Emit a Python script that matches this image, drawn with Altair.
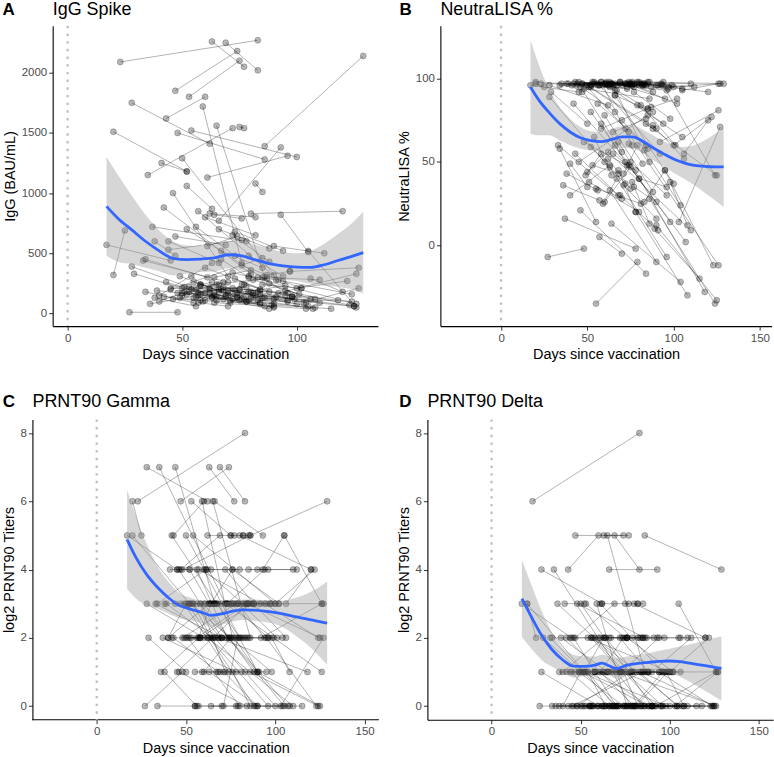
import altair as alt
import pandas as pd

# Sampling days for each participant (first and second visit)
day1 = [23, 17, 20, 20, 28, 27, 28, 29, 33, 35,
        34, 37, 38, 40, 41, 42, 43, 44, 45, 46,
        47, 48, 49, 50, 51, 52, 52, 53, 53, 54,
        54, 55, 56, 56, 57, 58, 58, 59, 60, 60,
        61, 62, 62, 63, 63, 64, 64, 65, 65, 66,
        66, 67, 68, 68, 69, 70, 71, 72, 72, 73,
        74, 75, 75, 76, 76, 77, 78, 79, 80, 80,
        81, 82, 83, 84, 85, 86, 86, 87, 88, 89,
        90, 92, 93, 95, 97, 98, 100, 103, 105, 106,
        36, 39, 40, 43, 44, 45, 46, 47, 48, 49,
        50, 51, 53, 55, 56, 57, 58, 59, 61, 62,
        63, 64, 65, 67, 69, 70, 71, 73, 74, 76,
        77, 79, 81, 83, 85, 57, 60, 52, 54, 66,
        42, 34, 38, 90, 94]
day2 = [83, 45, 52, 25, 62, 48, 60, 50, 70, 72,
        55, 78, 56, 63, 52, 80, 60, 66, 85, 70,
        74, 86, 58, 90, 80, 63, 98, 68, 75, 100,
        64, 79, 84, 66, 92, 72, 105, 76, 88, 75,
        96, 82, 110, 77, 90, 80, 104, 86, 73, 100,
        93, 85, 118, 78, 83, 95, 90, 88, 126, 84,
        107, 77, 96, 86, 102, 98, 108, 91, 120, 96,
        101, 85, 104, 125, 110, 129, 124, 97, 106, 115,
        112, 126, 105, 123, 127, 108, 122, 127, 126, 120,
        57, 65, 50, 68, 76, 62, 84, 69, 78, 74,
        66, 88, 63, 81, 73, 70, 87, 67, 74, 75,
        96, 76, 84, 79, 91, 85, 79, 94, 82, 83,
        90, 94, 99, 95, 102, 64, 82, 72, 69, 88,
        58, 61, 47, 125, 124]

# IgG Spike (BAU/mL)
igg1 = [2090, 570, 1510, 320, 1750, 10, 390, 330, 440, 1150,
        180, 720, 130, 150, 1250, 880, 1620, 600, 200, 1000,
        1850, 1500, 130, 1290, 220, 1060, 700, 180, 1800, 1520,
        310, 260, 140, 200, 850, 160, 240, 1720, 380, 110,
        1130, 830, 210, 2260, 140, 300, 90, 1560, 240, 180,
        770, 520, 220, 190, 2250, 160, 110, 650, 340, 290,
        140, 1550, 200, 120, 400, 240, 100, 310, 830, 130,
        280, 1080, 180, 160, 300, 1390, 130, 320, 250, 70,
        560, 170, 820, 190, 350, 140, 210, 90, 520, 290,
        80, 190, 100, 260, 530, 210, 120, 640, 170, 310,
        150, 180, 220, 130, 720, 90, 230, 100, 560, 170,
        130, 820, 110, 450, 150, 190, 90, 680, 170, 240,
        120, 480, 150, 110, 240, 170, 800, 160, 200, 700,
        140, 450, 600, 120, 270]
igg2 = [2270, 440, 1180, 690, 1410, 10, 170, 210, 260, 1540,
        90, 600, 60, 420, 1180, 330, 1800, 420, 460, 310,
        2180, 1280, 240, 320, 180, 870, 140, 260, 2100, 1300,
        170, 110, 90, 240, 280, 120, 60, 420, 180, 200,
        1310, 800, 90, 2050, 50, 360, 40, 300, 190, 80,
        1380, 380, 110, 100, 2020, 230, 60, 430, 80, 200,
        40, 1540, 170, 60, 210, 140, 50, 280, 850, 110,
        160, 1010, 90, 60, 280, 2140, 100, 350, 120, 40,
        500, 330, 510, 70, 380, 120, 270, 210, 50, 180,
        150, 140, 170, 120, 610, 200, 80, 570, 220, 130,
        200, 40, 260, 170, 480, 60, 290, 200, 640, 110,
        100, 790, 190, 300, 140, 130, 180, 520, 150, 300,
        80, 310, 120, 150, 210, 150, 650, 210, 140, 540,
        110, 300, 480, 60, 160]

# NeutraLISA inhibition (%)
nlisa1 = [97, 96, 98, 97, 96, -7, 89, 92, 60, 97,
          58, 16, 43, 30, 96, 85, 98, 97, 50, 95,
          97, 94, 42, 96, 38, 95, 80, 48, 98, 97,
          65, -35, 85, 97, 96, 73, 98, 96, 78, 26,
          97, 96, 56, 98, 33, 97, 13, 96, 55, 90,
          97, 93, 62, 45, 98, 96, 36, 97, 70, 95,
          48, 97, 50, 38, 96, 92, 20, 98, 97, 40,
          84, 96, 57, 73, 97, 98, 28, 95, 72, 10,
          96, 62, 97, 45, 95, 38, 60, 14, 93, 55,
          36, 97, 49, 55, 96, 98, 21, 97, 62, 96,
          44, 95, 97, 34, 96, 5, 70, 25, 98, 52,
          47, 97, 68, 96, 30, 75, 43, 97, 61, 98,
          35, 84, 97, 26, 82, 96, 97, 59, 98, 90,
          97, 96, 97, 12, 96]
nlisa2 = [96, 92, 96, 95, 84, -2, 50, 73, 28, 97,
          14, -2, 33, 48, 96, 40, 97, 80, 78, 56,
          98, 88, 55, 70, 20, 95, 14, 43, 97, 95,
          42, -10, 60, 93, 55, 50, 65, 60, 32, 47,
          93, 97, 9, 95, -10, 98, -22, 50, 48, 37,
          96, 82, -28, 20, 97, 88, 16, 92, -12, 96,
          2, 97, 30, 13, 85, 76, -30, 96, 92, 35,
          60, 98, 24, 42, 97, 97, -35, 94, 52, -20,
          95, 81, 94, -12, 97, 12, 77, 71, 97, 75,
          27, 96, 35, 30, 97, 96, -17, 98, 45, 68,
          60, 70, 97, 25, 94, -5, 83, 40, 97, 34,
          -7, 96, 76, 97, 9, 58, 60, 98, 49, 97,
          26, 73, 96, 45, 88, 97, 96, 37, 97, 80,
          98, 97, 92, -33, 42]

# log2 PRNT90 titers, Gamma variant
gamma1 = [6, 5, 5, 6, 7, 0, 3, 2, 3, 7,
          0, 2, 1, 2, 4, 5, 5, 7, 1, 4,
          6, 4, 2, 5, 2, 4, 3, 2, 6, 5,
          3, 0, 2, 3, 4, 3, 3, 6, 3, 1,
          4, 5, 2, 7, 1, 4, 0, 6, 3, 2,
          6, 3, 2, 3, 7, 3, 1, 4, 3, 3,
          2, 5, 3, 1, 4, 3, 0, 3, 5, 2,
          3, 5, 2, 3, 4, 5, 1, 3, 3, 0,
          4, 2, 4, 2, 3, 2, 3, 0, 5, 3,
          1, 3, 2, 2, 3, 4, 1, 4, 2, 3,
          2, 3, 3, 1, 4, 0, 2, 1, 3, 2,
          2, 3, 2, 3, 1, 2, 0, 3, 2, 3,
          2, 3, 2, 1, 3, 2, 4, 2, 3, 3,
          2, 3, 3, 1, 3]
gamma2 = [8, 4, 3, 5, 6, 1, 2, 1, 2, 3,
          0, 1, 0, 3, 4, 2, 6, 3, 3, 2,
          7, 5, 2, 1, 0, 3, 1, 2, 5, 3,
          2, 0, 3, 3, 3, 1, 0, 2, 1, 2,
          4, 5, 0, 6, 0, 4, 0, 2, 3, 0,
          5, 3, 1, 2, 6, 3, 0, 3, 1, 3,
          0, 5, 2, 0, 3, 3, 0, 3, 4, 2,
          2, 5, 2, 2, 4, 6, 0, 3, 2, 0,
          4, 3, 5, 0, 3, 1, 4, 2, 3, 4,
          2, 2, 3, 1, 3, 4, 0, 5, 3, 1,
          2, 0, 3, 1, 2, 0, 3, 1, 3, 2,
          0, 4, 2, 3, 1, 2, 2, 4, 2, 3,
          1, 2, 2, 1, 3, 3, 3, 2, 2, 3,
          2, 4, 3, 0, 2]

# log2 PRNT90 titers, Delta variant
delta1 = [6, 3, 3, 3, 4, 0, 1, 2, 2, 4,
          0, 3, 0, 1, 3, 2, 4, 1, 0, 2,
          5, 3, 1, 3, 0, 1, 1, 0, 3, 2,
          1, 0, 0, 2, 2, 1, 2, 3, 1, 0,
          3, 3, 0, 5, 0, 2, 0, 5, 1, 0,
          4, 2, 0, 1, 5, 1, 0, 2, 1, 2,
          0, 3, 1, 0, 2, 1, 0, 2, 3, 0,
          1, 3, 1, 1, 2, 5, 0, 2, 1, 0,
          1, 0, 2, 0, 1, 1, 1, 0, 3, 2,
          0, 2, 0, 0, 2, 1, 0, 2, 0, 1,
          0, 1, 1, 0, 2, 0, 1, 0, 1, 0,
          0, 2, 1, 1, 0, 1, 0, 1, 1, 2,
          0, 1, 0, 0, 1, 1, 2, 0, 1, 1,
          1, 2, 1, 0, 1]
delta2 = [8, 2, 1, 2, 3, 0, 0, 1, 0, 1,
          0, 1, 0, 2, 3, 0, 5, 0, 1, 0,
          5, 2, 1, 0, 0, 2, 0, 0, 2, 1,
          0, 0, 0, 2, 0, 1, 0, 0, 0, 0,
          1, 3, 0, 5, 0, 1, 0, 1, 1, 0,
          4, 2, 0, 0, 4, 1, 0, 1, 0, 2,
          0, 3, 0, 0, 1, 1, 0, 2, 2, 1,
          1, 3, 0, 0, 2, 4, 0, 2, 1, 0,
          2, 1, 2, 0, 1, 0, 2, 1, 1, 2,
          0, 1, 1, 0, 2, 1, 0, 3, 1, 0,
          0, 0, 1, 0, 1, 0, 1, 0, 2, 0,
          0, 2, 1, 1, 0, 0, 0, 2, 0, 2,
          0, 1, 1, 0, 1, 1, 2, 0, 0, 1,
          1, 2, 1, 0, 0]

# LOESS fits with 95% confidence bands
smooth_days = [17, 22, 28, 34, 40, 46, 52, 58, 64, 70,
               76, 82, 88, 94, 100, 106, 112, 118, 124, 129]
igg_fit = [890, 790, 695, 600, 520, 458, 448, 452, 462, 488,
           478, 445, 415, 395, 385, 383, 405, 440, 475, 505]
igg_hi = [1300, 1150, 980, 820, 690, 600, 565, 560, 575, 600,
          600, 570, 540, 510, 500, 520, 580, 660, 750, 845]
igg_lo = [480, 430, 410, 380, 350, 316, 331, 344, 349, 376,
          356, 320, 290, 280, 270, 246, 230, 220, 200, 165]

nlisa_fit = [95, 87, 79.5, 73, 68, 64.5, 62.8, 62.2, 63.5, 65,
             65, 62.5, 58.5, 55, 51.8, 49.5, 48, 47.3, 47, 47]
nlisa_hi = [123, 108, 93, 83, 76, 71, 68.5, 68, 70, 71.5,
            72, 69.5, 66, 62.5, 60, 59, 60, 63, 67, 71]
nlisa_lo = [67, 66, 66, 63, 60, 58, 57, 56.4, 57, 58.5,
            58, 55.5, 51, 47.5, 43.6, 40, 36, 31.6, 27, 23]

gamma_fit = [4.88, 4.35, 3.85, 3.48, 3.18, 2.95, 2.85, 2.76, 2.66, 2.7,
             2.78, 2.82, 2.81, 2.78, 2.74, 2.68, 2.61, 2.55, 2.48, 2.43]
gamma_hi = [6.33, 5.55, 4.75, 4.1, 3.65, 3.32, 3.18, 3.08, 3.0, 3.02,
            3.08, 3.12, 3.12, 3.1, 3.08, 3.1, 3.18, 3.3, 3.47, 3.65]
gamma_lo = [3.43, 3.15, 2.95, 2.86, 2.71, 2.58, 2.52, 2.44, 2.32, 2.38,
            2.48, 2.52, 2.5, 2.46, 2.4, 2.26, 2.04, 1.8, 1.49, 1.21]

delta_days = [17, 22, 28, 34, 40, 46, 52, 58, 62, 66, 70,
              76, 82, 88, 94, 100, 106, 112, 118, 124, 129]
delta_fit = [3.15, 2.65, 2.08, 1.65, 1.35, 1.17, 1.16, 1.2, 1.26, 1.18, 1.1,
             1.2, 1.25, 1.28, 1.31, 1.32, 1.3, 1.25, 1.2, 1.15, 1.1]
delta_hi = [4.28, 3.6, 2.8, 2.15, 1.7, 1.5, 1.45, 1.45, 1.5, 1.45, 1.4,
            1.45, 1.5, 1.55, 1.62, 1.68, 1.75, 1.82, 1.9, 1.98, 2.04]
delta_lo = [2.02, 1.7, 1.36, 1.15, 1.0, 0.84, 0.87, 0.95, 1.02, 0.91, 0.8,
            0.95, 1.0, 1.01, 1.0, 0.96, 0.85, 0.68, 0.5, 0.32, 0.16]

FONT = "Liberation Sans"
PANEL_H = 301


def panel(tag, title, first, second, sx, fit, lo, hi,
          xdom, xticks, ydom, yticks, ytitle, width, tag_x, text_y, shift=0.0):
    """One panel: paired trajectories, points, LOESS band and fit.

    `shift` pushes the y axis `shift` px to the left of the data rectangle,
    so the drawn frame starts left of the panel's grid origin.
    """
    n = len(day1)
    pts = pd.DataFrame({
        "subject": list(range(n)) * 2,
        "day": day1 + day2,
        "value": first + second,
    })
    band = pd.DataFrame({"day": sx, "fit": fit, "lo": lo, "hi": hi})

    px_per_day = width / (xdom[1] - xdom[0])
    view_dom = [xdom[0] + shift / px_per_day, xdom[1]]
    view_w = width - shift

    xs = alt.Scale(domain=view_dom, nice=False, zero=False)
    ys = alt.Scale(domain=ydom, nice=False, zero=False)
    xax = alt.Axis(values=xticks, title="Days since vaccination", format="d",
                   domain=(shift == 0))
    yax = alt.Axis(values=yticks, title=ytitle, format="d", offset=shift)

    def X(field="day:Q"):
        return alt.X(field, scale=xs, axis=xax)

    def Y(field):
        return alt.Y(field, scale=ys, axis=yax)

    layers = []
    if shift:
        # x-axis baseline spanning the full frame, down to the shifted y axis
        base = pd.DataFrame({"x0": [xdom[0]], "x1": [xdom[1]], "y0": [ydom[0]]})
        layers.append(alt.Chart(base).mark_rule(color="black", strokeWidth=1.1).encode(
            x=X("x0:Q"), x2="x1:Q", y=Y("y0:Q")))

    vline = alt.Chart(pd.DataFrame({"day": [0]})).mark_rule(
        color="#BDBDBD", strokeDash=[2.4, 5.3], strokeWidth=2.2
    ).encode(x=X())

    paths = alt.Chart(pts).mark_line(
        color="black", strokeOpacity=0.3, strokeWidth=1
    ).encode(x=X(), y=Y("value:Q"), detail="subject:N")

    dots = alt.Chart(pts).mark_circle(
        size=36, fill="black", fillOpacity=0.28,
        stroke="black", strokeOpacity=0.3, strokeWidth=0.8
    ).encode(x=X(), y=Y("value:Q"))

    ribbon = alt.Chart(band).mark_area(
        color="#999999", opacity=0.4, interpolate="monotone"
    ).encode(x=X(), y=Y("lo:Q"), y2="hi:Q")

    trend = alt.Chart(band).mark_line(
        color="#3366FF", strokeWidth=2.8, interpolate="monotone"
    ).encode(x=X(), y=Y("fit:Q"))

    tag_text = alt.Chart(pd.DataFrame({"t": [tag]})).mark_text(
        align="left", baseline="alphabetic", font=FONT, fontSize=17,
        fontWeight="bold", color="black"
    ).encode(text="t:N", x=alt.value(tag_x - shift), y=alt.value(text_y))

    title_text = alt.Chart(pd.DataFrame({"t": [title]})).mark_text(
        align="left", baseline="alphabetic", font=FONT, fontSize=18,
        color="black"
    ).encode(text="t:N", x=alt.value(-shift), y=alt.value(text_y))

    layers += [vline, paths, dots, ribbon, trend, tag_text, title_text]
    return alt.layer(*layers).properties(width=view_w, height=PANEL_H)


pa = panel("A", "IgG Spike", igg1, igg2, smooth_days, igg_fit, igg_lo, igg_hi,
           [-6.5, 135.4], [0, 50, 100], [-105, 2390], [0, 500, 1000, 1500, 2000],
           "IgG (BAU/mL)", 326, -50.3, -10.5)
pb = panel("B", "NeutraLISA %", nlisa1, nlisa2, smooth_days, nlisa_fit, nlisa_lo, nlisa_hi,
           [-35.2, 156.8], [0, 50, 100, 150], [-48.5, 131.7], [0, 50, 100],
           "NeutraLISA %", 332, -41, -10.5)
pc = panel("C", "PRNT90 Gamma", gamma1, gamma2, smooth_days, gamma_fit, gamma_lo, gamma_hi,
           [-36, 158], [0, 50, 100, 150], [-0.4, 8.4], [0, 2, 4, 6, 8],
           "log2 PRNT90 Titers", 347.3, -29.7, -12.5, shift=20.3)
pd_ = panel("D", "PRNT90 Delta", delta1, delta2, delta_days, delta_fit, delta_lo, delta_hi,
            [-36, 158], [0, 50, 100, 150], [-0.4, 8.4], [0, 2, 4, 6, 8],
            "log2 PRNT90 Titers", 346.5, -28.3, -12.5)

chart = alt.concat(
    pa, pb, pc, pd_,
    columns=2,
    align="none",
    spacing={"row": 31.5, "column": 15.6},
).properties(
    padding={"left": 0.8, "top": 0, "right": 0, "bottom": 0}
).configure(
    font=FONT, background="white"
).configure_view(
    stroke=None
).configure_axis(
    grid=False,
    domainColor="black", domainWidth=1.1,
    tickColor="#333333", tickSize=4, tickWidth=1,
    labelColor="#4D4D4D", labelFontSize=11.5, labelFont=FONT, labelPadding=2,
    titleFont=FONT, titleFontSize=14.5, titleFontWeight="normal",
    titleColor="black", titlePadding=4,
)

chart.save("out.html", embed_options={"renderer": "svg", "actions": False})
